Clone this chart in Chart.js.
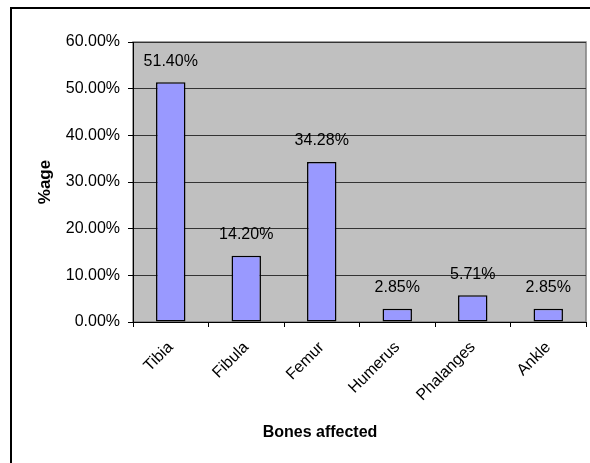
<!DOCTYPE html>
<html>
<head>
<meta charset="utf-8">
<script src="https://cdn.jsdelivr.net/npm/chart.js@4.4.1/dist/chart.umd.min.js"></script>
<style>
  html, body { margin: 0; padding: 0; background: #fff; overflow: hidden; }
  #wrap { width: 590px; height: 463px; position: relative; }
</style>
</head>
<body>
<div id="wrap"><canvas id="ossos"></canvas></div>
<script>
// dados do gráfico
const categorias = ['Tibia', 'Fibula', 'Femur', 'Humerus', 'Phalanges', 'Ankle'];
const percentuais = [51.40, 14.20, 34.28, 2.85, 5.71, 2.85];
const ticksY = [0, 10, 20, 30, 40, 50, 60];

const fonte = "'Liberation Sans', Arial, sans-serif";
Chart.defaults.font.family = fonte;
Chart.defaults.color = '#000';

// moldura externa, fundo cinza da área do gráfico e título do eixo X
const fundo = {
    id: 'fundo',
    beforeDraw(chart) {
        const { ctx, chartArea: a } = chart;
        ctx.save();
        ctx.strokeStyle = '#000';
        ctx.lineWidth = 2;
        ctx.strokeRect(11, 8, 700, 700);
        ctx.fillStyle = '#C0C0C0';
        ctx.fillRect(a.left, a.top, a.right - a.left, a.bottom - a.top);
        ctx.strokeStyle = '#808080';
        ctx.lineWidth = 1.5;
        ctx.strokeRect(a.left, a.top, a.right - a.left, a.bottom - a.top);
        ctx.restore();
    },
    afterDraw(chart) {
        const ctx = chart.ctx;
        ctx.save();
        ctx.font = 'bold 16px ' + fonte;
        ctx.fillStyle = '#000';
        ctx.textAlign = 'center';
        ctx.textBaseline = 'middle';
        ctx.fillText('Bones affected', 320, 433);
        ctx.restore();
    }
};

// rótulos de valor em cima das barras
const rotulos = {
    id: 'rotulos',
    afterDatasetsDraw(chart) {
        const ctx = chart.ctx;
        const meta = chart.getDatasetMeta(0);
        ctx.save();
        ctx.font = '16px ' + fonte;
        ctx.fillStyle = '#000';
        ctx.textAlign = 'center';
        ctx.textBaseline = 'middle';
        meta.data.forEach((barra, i) => {
            ctx.fillText(percentuais[i].toFixed(2) + '%', barra.x, barra.y - 21);
        });
        ctx.restore();
    }
};

const ctx = document.getElementById('ossos').getContext('2d');
new Chart(ctx, {
    type: 'bar',
    data: {
        labels: categorias,
        datasets: [{
            data: percentuais,
            backgroundColor: '#9999FF',
            borderColor: '#000',
            borderWidth: 1.5,
            borderSkipped: false,
            barPercentage: 0.39,
            categoryPercentage: 1
        }]
    },
    options: {
        responsive: true,
        maintainAspectRatio: false,
        animation: false,
        layout: { padding: { top: 42, right: 4, left: 35, bottom: 0 } },
        plugins: {
            legend: { display: false },
            tooltip: { enabled: false }
        },
        scales: {
            x: {
                grid: {
                    offset: true,
                    drawOnChartArea: false,
                    drawTicks: true,
                    tickLength: 5,
                    tickColor: '#000'
                },
                border: { color: '#000', width: 1 },
                ticks: {
                    font: { size: 16 },
                    maxRotation: 45,
                    minRotation: 45,
                    padding: 11
                },
                afterFit(scale) { scale.height = 141; }
            },
            y: {
                min: 0,
                max: 60,
                afterBuildTicks(scale) { scale.ticks = ticksY.map(v => ({ value: v })); },
                grid: {
                    color: '#333',
                    lineWidth: 1,
                    tickLength: 5,
                    tickColor: '#000'
                },
                border: { color: '#000', width: 1 },
                ticks: {
                    font: { size: 16 },
                    padding: 8,
                    callback: v => v.toFixed(2) + '%'
                },
                title: {
                    display: true,
                    text: '%age',
                    font: { size: 17, weight: 'bold' },
                    padding: 0
                },
                afterFit(scale) { scale.width = 98; }
            }
        }
    },
    plugins: [fundo, rotulos]
});
</script>
</body>
</html>
